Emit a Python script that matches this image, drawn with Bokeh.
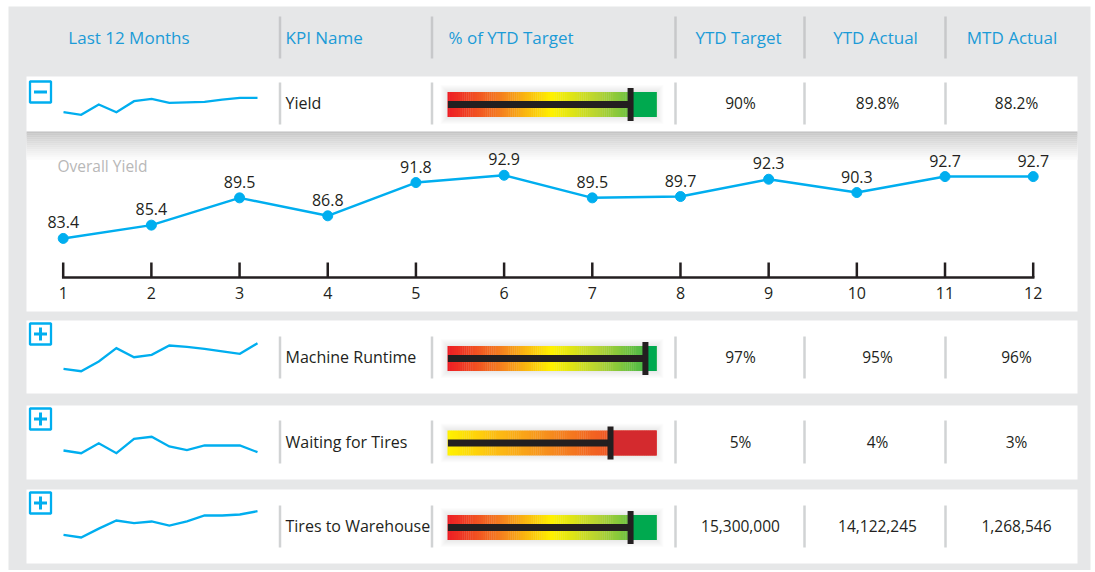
import numpy as np
from bokeh.plotting import figure
from bokeh.models import Range1d
from bokeh.embed import file_html
from bokeh.resources import INLINE
from bokeh.core.properties import value

# ---------------- data ----------------
months = [1, 2, 3, 4, 5, 6, 7, 8, 9, 10, 11, 12]
month_labels = [str(m) for m in months]
overall_yield = [83.4, 85.4, 89.5, 86.8, 91.8, 92.9, 89.5, 89.7, 92.3, 90.3, 92.7, 92.7]
yield_labels = ["83.4", "85.4", "89.5", "86.8", "91.8", "92.9", "89.5", "89.7", "92.3", "90.3", "92.7", "92.7"]

column_headers = ["Last 12 Months", "KPI Name", "% of YTD Target", "YTD Target", "YTD Actual", "MTD Actual"]
kpi_names = ["Yield", "Machine Runtime", "Waiting for Tires", "Tires to Warehouse"]
ytd_target = ["90%", "97%", "5%", "15,300,000"]
ytd_actual = ["89.8%", "95%", "4%", "14,122,245"]
mtd_actual = ["88.2%", "96%", "3%", "1,268,546"]
# marker position of each KPI on its 0-100 "% of YTD Target" gauge
gauge_position = [87.6, 94.7, 78.0, 87.6]
lower_is_better = [False, False, True, False]
expanded = [True, False, False, False]

# 12-month sparkline trends (relative index values)
trend_yield = [8.3, 5.7, 16.0, 8.3, 19.3, 21.7, 17.7, 18.2, 18.7, 20.8, 22.7, 22.7]
trend_runtime = [11.7, 9.3, 19.0, 32.3, 23.3, 25.7, 35.0, 33.7, 31.7, 29.1, 26.7, 37.3]
trend_waiting = [15.0, 12.3, 22.3, 12.3, 26.7, 28.7, 19.0, 15.4, 20.0, 20.0, 20.0, 13.3]
trend_warehouse = [15.7, 13.0, 21.9, 30.0, 27.3, 29.0, 25.0, 29.2, 35.0, 35.0, 36.0, 39.3]
trends = [trend_yield, trend_runtime, trend_waiting, trend_warehouse]

# ---------------- layout / style ----------------
FONT = value("Open Sans")
BLUE_TXT = "#1b9bd7"
CYAN = "#00aeef"
DARK = "#231f20"
PANEL = "#e6e7e8"
SEP = "#d1d3d4"

W, H = 1092, 570
XL, XR = 0, W
YT, YB = 0, H

p = figure(width=W, height=H, x_range=Range1d(XL, XR), y_range=Range1d(YB, YT),
           output_backend="svg", toolbar_location=None, min_border=0,
           outline_line_color=None, background_fill_color="white",
           border_fill_color="white", x_axis_location=None, y_axis_location=None)
p.grid.visible = False


def span_range(p_a, v_a, p_b, v_b, p_lo, p_hi):
    k = (v_b - v_a) / (p_b - p_a)
    return Range1d(v_a + (p_lo - p_a) * k, v_a + (p_hi - p_a) * k)


row_tops = [76, 320, 405, 489]
row_bots = [131, 393, 479, 563]
row_mid = [104, 358, 442.5, 527]
spark_base = [120, 380, 465, 550]
sep_x = [279.5, 431.5, 675, 804, 945]
sep_span = [(82, 124), (336, 378), (420, 463), (505, 547)]
box_top = [81, 323, 408, 492]
CH_TOP, CH_BOT = 131, 311
G_L, G_R, G_HALF = 447, 656, 12.5

p.extra_x_ranges = {
    "month": span_range(62.7, 1, 1032.7, 12, XL, XR),
    "spark": span_range(63, 1, 257, 12, XL, XR),
    "gauge": span_range(G_L, 0, G_R, 100, XL, XR),
}
yr = {"yield": span_range(195.7, 89.75, 189.05, 90.75, YB, YT)}
for i, b in enumerate(spark_base):
    yr[f"s{i}"] = span_range(b, 0, b - 1, 1, YB, YT)
p.extra_y_ranges = yr

# outer gray panel
p.quad(left=8, right=1090, top=6, bottom=575, fill_color=PANEL, line_color=None)

# white panel rows
p.quad(left=26, right=1077, top=row_tops, bottom=row_bots, fill_color="white", line_color=None)
p.quad(left=26, right=1077, top=CH_TOP, bottom=CH_BOT, fill_color="white", line_color=None)

# shading at the top of the expanded chart panel
n_sh = 14
for k in range(n_sh):
    t = k / n_sh
    g = int(196 + (255 - 196) * (t ** 0.8))
    p.quad(left=26, right=1077, top=CH_TOP + k * 2, bottom=CH_TOP + k * 2 + 2.2,
           fill_color=f"#{g:02x}{g:02x}{g:02x}", line_color=None)

# header
p.segment(x0=sep_x, x1=sep_x, y0=[16] * 5, y1=[58] * 5, line_color="#c7c8ca", line_width=2.5)
p.text(x=[128.5], y=[37], text=[column_headers[0]], text_align="center", text_baseline="middle",
       text_font=FONT, text_font_size="17px", text_color=BLUE_TXT)
p.text(x=[285, 448], y=[37, 37], text=column_headers[1:3], text_align="left", text_baseline="middle",
       text_font=FONT, text_font_size="17px", text_color=BLUE_TXT)
p.text(x=[738, 875, 1011.5], y=[37] * 3, text=column_headers[3:], text_align="center",
       text_baseline="middle", text_font=FONT, text_font_size="17px", text_color=BLUE_TXT)


def lerp_color(stops, t):
    for (t0, c0), (t1, c1) in zip(stops[:-1], stops[1:]):
        if t <= t1:
            f = (t - t0) / (t1 - t0) if t1 > t0 else 0
            a = [int(c0[i:i + 2], 16) for i in (1, 3, 5)]
            b = [int(c1[i:i + 2], 16) for i in (1, 3, 5)]
            c = [round(a[j] + (b[j] - a[j]) * f) for j in range(3)]
            return "#%02x%02x%02x" % tuple(c)
    return stops[-1][1]


stops_good = [(0, "#ed1c24"), (0.25, "#f47d20"), (0.5, "#fff200"), (0.72, "#b5d334"), (1.0, "#2fb24c")]
stops_bad = [(0, "#fff200"), (0.22, "#fdbf12"), (0.45, "#f7941d"), (0.7, "#f26322"), (1.0, "#e2302a")]

for r in range(4):
    yc = row_mid[r]
    # separators
    s0, s1 = sep_span[r]
    p.segment(x0=sep_x, x1=sep_x, y0=[s0] * 5, y1=[s1] * 5, line_color=SEP, line_width=2.5)
    # toggle icon
    bt = box_top[r]
    p.quad(left=29.5, right=50.5, top=bt, bottom=bt + 21, fill_color="white",
           line_color=CYAN, line_width=2.3)
    cy = bt + 10.5
    p.segment(x0=[33.5], x1=[46.5], y0=[cy], y1=[cy], line_color=CYAN, line_width=3, line_cap="butt")
    if not expanded[r]:
        p.segment(x0=[40], x1=[40], y0=[cy - 6.5], y1=[cy + 6.5], line_color=CYAN, line_width=3,
                  line_cap="butt")
    # sparkline
    p.line(x=months, y=trends[r], x_range_name="spark", y_range_name=f"s{r}",
           line_color=CYAN, line_width=2.3, line_join="miter")
    # texts
    ty = yc - 1.5
    p.text(x=[285], y=[ty], text=[kpi_names[r]], text_align="left", text_baseline="middle",
           text_font=FONT, text_font_size="16px", text_color=DARK)
    p.text(x=[740, 877, 1016], y=[ty] * 3, text=[ytd_target[r], ytd_actual[r], mtd_actual[r]],
           text_align="center", text_baseline="middle", text_font=FONT,
           text_font_size="15.5px", text_color=DARK)
    # gauge glow
    for k in range(1, 8):
        p.quad(left=G_L - k, right=G_R + k, top=yc - G_HALF - k, bottom=yc + G_HALF + k,
               fill_color="black", fill_alpha=0.011, line_color=None)
    # gauge gradient
    stops = stops_bad if lower_is_better[r] else stops_good
    n = 100
    lefts = [i * 100 / n for i in range(n)]
    rights = [(i + 1.15) * 100 / n for i in range(n)]
    cols = [lerp_color(stops, (i + 0.5) / n) for i in range(n)]
    p.quad(left=lefts, right=rights, top=yc - G_HALF, bottom=yc + G_HALF, fill_color=cols,
           line_color=None, x_range_name="gauge")
    gp = gauge_position[r]
    solid = "#d42a2e" if lower_is_better[r] else "#00a94f"
    p.quad(left=[gp], right=[100], top=yc - G_HALF, bottom=yc + G_HALF, fill_color=solid,
           line_color=None, x_range_name="gauge")
    p.segment(x0=[0.2], x1=[gp], y0=[yc], y1=[yc], line_color=DARK, line_width=7,
              line_cap="butt", x_range_name="gauge")
    p.segment(x0=[gp], x1=[gp], y0=[yc - 16.5], y1=[yc + 16.5], line_color=DARK, line_width=6,
              line_cap="butt", x_range_name="gauge")

# expanded chart: Overall Yield
p.text(x=[57], y=[165], text=["Overall Yield"], text_align="left", text_baseline="middle",
       text_font=FONT, text_font_size="15.5px", text_color="#b8b8b8")
p.segment(x0=[1], x1=[12], y0=[277], y1=[277], x_range_name="month", line_color=DARK,
          line_width=2.5, line_cap="square")
p.segment(x0=months, x1=months, y0=[262] * 12, y1=[277] * 12, x_range_name="month",
          line_color=DARK, line_width=2.5)
p.text(x=months, y=[292] * 12, text=month_labels, x_range_name="month", text_align="center",
       text_baseline="middle", text_font=FONT, text_font_size="16px", text_color=DARK)
p.line(x=months, y=overall_yield, x_range_name="month", y_range_name="yield",
       line_color=CYAN, line_width=2.5)
p.scatter(x=months, y=overall_yield, x_range_name="month", y_range_name="yield",
          size=10, fill_color=CYAN, line_color=CYAN)
p.text(x=months, y=overall_yield, text=yield_labels, x_range_name="month", y_range_name="yield",
       y_offset=-10, text_align="center", text_baseline="bottom", text_font=FONT,
       text_font_size="16px", text_color=DARK)

open("out.html", "w").write(file_html(p, INLINE))
